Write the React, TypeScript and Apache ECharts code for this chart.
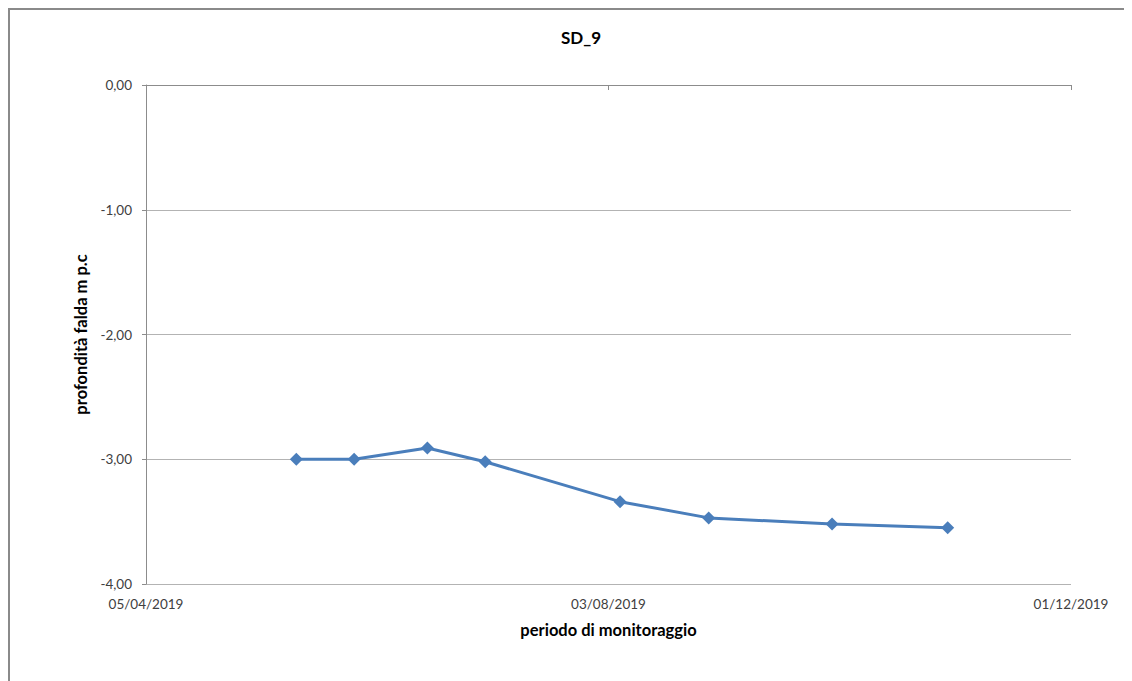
import React, { useEffect, useRef } from "react";
import * as echarts from "echarts";

const TITLE = "SD_9";
const X_NAME = "periodo di monitoraggio";
const Y_NAME = "profondità falda m p.c";
const DATES = ["14/05/2019", "29/05/2019", "17/06/2019", "02/07/2019", "06/08/2019", "29/08/2019", "30/09/2019", "30/10/2019"];
const DEPTHS = [-3.0, -3.0, -2.91, -3.02, -3.34, -3.47, -3.52, -3.55];
const X_MIN_LABEL = "05/04/2019";
const X_MAX_LABEL = "01/12/2019";
const X_STEP_DAYS = 120;
const Y_MIN = -4;
const Y_MAX = 0;
const Y_STEP = 1;

// Excel serial day numbers
const toSerial = (s: string) => {
  const [d, m, y] = s.split("/").map(Number);
  const base = Date.UTC(1899, 11, 30);
  return Math.round((Date.UTC(y, m - 1, d) - base) / 86400000);
};
const fromSerial = (n: number) => {
  const dt = new Date(Date.UTC(1899, 11, 30) + n * 86400000);
  const dd = String(dt.getUTCDate()).padStart(2, "0");
  const mm = String(dt.getUTCMonth() + 1).padStart(2, "0");
  return `${dd}/${mm}/${dt.getUTCFullYear()}`;
};

const FONT = "Lato, 'Open Sans', sans-serif";

export default function App() {
  const ref = useRef<HTMLDivElement>(null);
  useEffect(() => {
    if (!ref.current) return;
    const chart = echarts.init(ref.current, null, { renderer: "svg" });
    const xmin = toSerial(X_MIN_LABEL);
    const xmax = toSerial(X_MAX_LABEL);
    const data = DATES.map((d, i) => [toSerial(d), DEPTHS[i]]);
    const axisGray = "#8c8c8c";
    chart.setOption({
      animation: false,
      textStyle: { fontFamily: FONT },
      title: {
        text: TITLE,
        left: 568,
        top: 16,
        textAlign: "center",
        textStyle: { fontFamily: FONT, fontSize: 17, fontWeight: "bold", color: "#000" },
      },
      graphic: [
        { type: "line", shape: { x1: 0, y1: 1, x2: 1124, y2: 1 }, style: { stroke: "#8a8a8a", lineWidth: 2 } },
        { type: "line", shape: { x1: 1, y1: 0, x2: 1, y2: 673 }, style: { stroke: "#8a8a8a", lineWidth: 2 } },
      ],
      grid: { left: 138, top: 77, width: 925, height: 499 },
      xAxis: [
        {
          type: "value",
          min: xmin,
          max: xmax,
          interval: X_STEP_DAYS,
          position: "bottom",
          name: X_NAME,
          nameLocation: "middle",
          nameGap: 37,
          nameTextStyle: { fontFamily: FONT, fontSize: 16.5, fontWeight: "bold", color: "#000" },
          axisLine: { show: true, lineStyle: { color: axisGray } },
          axisTick: { show: false },
          splitLine: { show: false },
          axisLabel: {
            margin: 13,
            fontSize: 13.5,
            color: "#404040",
            fontFamily: FONT,
            formatter: (v: number) => fromSerial(v),
          },
        },
        {
          type: "value",
          min: xmin,
          max: xmax,
          interval: X_STEP_DAYS,
          position: "top",
          axisLine: { show: true, lineStyle: { color: axisGray } },
          axisTick: { show: true, inside: true, length: 5, lineStyle: { color: axisGray } },
          axisLabel: { show: false },
          splitLine: { show: false },
        },
      ],
      yAxis: {
        type: "value",
        min: Y_MIN,
        max: Y_MAX,
        interval: Y_STEP,
        name: Y_NAME,
        nameLocation: "middle",
        nameGap: 51,
        nameRotate: 90,
        nameTextStyle: { fontFamily: FONT, fontSize: 16.5, fontWeight: "bold", color: "#000" },
        axisLine: { show: true, lineStyle: { color: axisGray } },
        axisTick: { show: true, length: 4, lineStyle: { color: axisGray } },
        splitLine: { show: true, lineStyle: { color: "#b3b3b3", width: 1 } },
        axisLabel: {
          margin: 14,
          fontSize: 13.5,
          color: "#404040",
          fontFamily: FONT,
          formatter: (v: number) => v.toFixed(2).replace(".", ","),
        },
      },
      series: [
        {
          type: "line",
          data,
          symbol: "diamond",
          symbolSize: 13,
          itemStyle: { color: "#4a7ebb" },
          lineStyle: { color: "#4a7ebb", width: 3 },
        },
      ],
    });
    return () => chart.dispose();
  }, []);
  return <div ref={ref} style={{ width: 1124, height: 673 }} />;
}
